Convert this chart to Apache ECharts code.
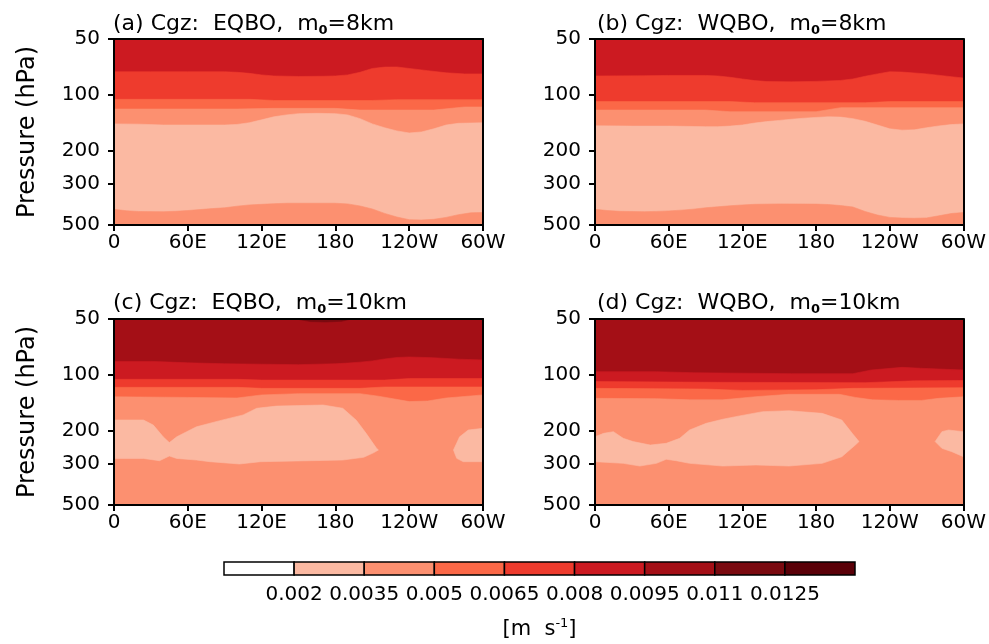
<!DOCTYPE html>
<html>
<head>
<meta charset="utf-8">
<script src="https://cdn.jsdelivr.net/npm/echarts@6/dist/echarts.min.js"></script>
<style>html,body{margin:0;padding:0;background:#fff}#c{width:989px;height:644px}</style>
</head>
<body>
<div id="c"></div>
<script>
// ---- axis ticks / labels ----
const lonTickValues = [0, 60, 120, 180, 240, 300];
const lonTickLabels = ['0', '60E', '120E', '180', '120W', '60W'];
const pTickValues = [50, 100, 200, 300, 500];
const levels = [0.002, 0.0035, 0.005, 0.0065, 0.008, 0.0095, 0.011, 0.0125];
const colors = ['#ffffff', '#fbb9a2', '#fc9070', '#fb6847', '#ee3b2d', '#cc1a21', '#a40f16', '#7a0a10', '#5a0008'];
const titles = ['(a) Cgz:  EQBO,  m{s|0}=8km', '(b) Cgz:  WQBO,  m{s|0}=8km',
                '(c) Cgz:  EQBO,  m{s|0}=10km', '(d) Cgz:  WQBO,  m{s|0}=10km'];

// ---- contour boundaries, [longitude, pressure hPa] ----
// panel (a)
const aL1 = [[0,75],[30,75],[60,75],[90,75],[100,75.5],[110,76.5],[120,78],[130,79],[150,79.5],[170,79.3],[180,79],[190,78],[200,75.5],[210,72],[220,70.8],[230,70.7],[240,72],[255,74],[270,76],[285,77],[300,77]];
const aL2 = [[0,105.5],[110,105.5],[130,107],[210,107],[230,106],[300,106]];
const aL3 = [[0,119],[100,119],[130,118],[180,118],[200,120.5],[260,120.5],[285,116],[300,116]];
const aL4 = [[0,143],[20,143.5],[40,145],[90,145],[100,144],[110,141],[120,136],[130,131],[140,128],[150,126],[165,125.5],[180,126],[190,128],[200,134],[210,143],[220,150],[230,156],[240,160],[250,158],[260,152],[270,145],[280,142],[300,141]];
const aL5 = [[0,412],[10,419],[20,423],[40,424],[50,422],[60,418],[70,413],[80,408],[90,404],[100,396],[110,390],[120,387],[130,384],[140,382],[180,382],[190,385],[200,395],[210,410],[220,433],[230,453],[240,468],[250,470],[260,466],[270,455],[280,440],[290,430],[300,428]];
// panel (b)
const bL1 = [[0,79],[40,78.8],[60,78.5],[90,78.5],[100,79],[110,80.3],[120,82],[130,83.7],[140,84.7],[160,85],[180,84.5],[200,83.5],[210,82],[220,79.3],[230,77],[240,75],[250,75.3],[270,77],[290,79.7],[300,81]];
const bL2 = [[0,108.5],[110,108.5],[130,110],[220,110],[240,108.5],[300,108.5]];
const bL3 = [[0,120.5],[90,120.5],[110,123],[180,123],[200,117],[300,117]];
const bL4 = [[0,146.5],[30,147],[60,147],[90,148],[100,148],[110,147],[120,145],[130,141.5],[140,139],[150,137],[160,135],[170,133.3],[180,132],[190,131],[200,131.5],[210,134],[220,138.5],[230,145],[240,152],[250,154.5],[260,154],[270,150],[280,146.7],[290,144.3],[300,143]];
const bL5 = [[0,412],[10,418],[20,422],[40,424],[50,422.5],[60,420],[70,416],[80,411],[90,404],[100,399],[110,394],[120,390],[130,387],[150,385],[170,385.5],[180,386],[190,388],[200,393],[210,400],[220,423],[230,442],[240,455],[250,459],[260,460],[270,458],[280,446],[290,434],[300,428]];
// panel (c)
const cL1 = [[0,84.5],[30,84.5],[40,85],[60,86],[90,87],[120,87.5],[150,88],[180,87],[190,86.3],[200,85.3],[210,84],[220,82],[230,80.5],[240,80],[260,80.8],[280,82.2],[300,83]];
const cL2 = [[0,105.5],[100,105.5],[120,106.5],[220,106.5],[240,104.5],[300,104.5]];
const cL3 = [[0,116.5],[100,116.5],[120,118],[200,118],[220,116],[300,116]];
const cL4 = [[0,131],[60,132],[100,133],[120,128],[150,126],[200,126],[215,130],[240,139],[255,138],[270,133],[300,128]];
const cSpot = [[148,50],[160,51.6],[172,51.9],[185,51.4],[193,50]];
const cBlob1 = [[0,174.6],[24,174.6],[32,186],[40,215],[45,231],[51,215],[59,202],[67,190],[86,176],[105,164],[116,151],[132,147],[170,145],[186,151],[197,175],[205,206],[213.5,248],[215,253],[211,262],[203,277],[186,286.5],[159,289],[119,292.5],[102,301],[78,292.5],[67,286.5],[51,281],[45,272.6],[37,289],[24,281],[0,281]];
const cBlob2 = [[276,253],[281,215],[288,197.6],[300,193.6],[300,292.5],[284,292.5],[278.6,280.6]];
// panel (d)
const dL1 = [[0,96],[50,96],[80,97.2],[160,98.4],[210,98.4],[225,94],[250,91],[265,92],[300,94]];
const dL2 = [[0,108.5],[100,109.5],[220,110],[260,107.5],[300,107]];
const dL3 = [[0,118],[90,119],[120,121],[180,120],[210,118],[300,117]];
const dL4 = [[0,133.5],[50,134],[77,136],[104,136],[131,130.8],[158,127],[199,127],[212,132],[226,136],[247,137],[266,137],[280,133.5],[300,131]];
const dBlob1 = [[0,214.6],[7,206],[15,201.7],[23,219],[31,228],[45,238],[58,233],[69,219],[77,197.6],[90.5,182],[104,173],[117.6,166],[136.5,157.5],[158,155.6],[185,160.8],[201,174.6],[209.5,206],[215,228],[212,238],[201,275],[185,298.5],[158,308.6],[131,304.7],[104,308.6],[77,298.5],[66,288.8],[58,284],[50,298.5],[36.5,308.6],[23,298.5],[0,292.4]];
const dBlob2 = [[277,228],[282.5,201.7],[288,197.6],[300,201.7],[300,275],[290.6,258.5],[282.5,248]];

// level index of each layer: background, regions below each boundary, closed areas
const panels = [
  {bg: 5, below: [[4, aL1], [3, aL2], [2, aL3], [1, aL4], [2, aL5]], closed: []},
  {bg: 5, below: [[4, bL1], [3, bL2], [2, bL3], [1, bL4], [2, bL5]], closed: []},
  {bg: 6, below: [[5, cL1], [4, cL2], [3, cL3], [2, cL4]], closed: [[7, cSpot], [1, cBlob1], [1, cBlob2]]},
  {bg: 6, below: [[5, dL1], [4, dL2], [3, dL3], [2, dL4]], closed: [[1, dBlob1], [1, dBlob2]]}
];

// ---- layout ----
const FONT = 'DejaVu Sans';
const grids = [
  {left: 114, top: 39, width: 369, height: 186},
  {left: 595, top: 39, width: 370, height: 186},
  {left: 114, top: 319, width: 369, height: 186},
  {left: 595, top: 319, width: 370, height: 186}
];
const titlePos = [[113, 11], [597, 11], [113, 290], [597, 290]];
const LON_MIN = 0, LON_MAX = 300, P_TOP = 50, P_BOT = 500;
const lg = Math.log10;

const xAxes = [], yAxes = [], series = [], titleComps = [];
const lineStyle = {color: '#000', width: 2};

panels.forEach((pn, i) => {
  const shapes = [];
  shapes.push({level: pn.bg, pts: [[LON_MIN, P_TOP], [LON_MAX, P_TOP], [LON_MAX, P_BOT], [LON_MIN, P_BOT]]});
  pn.below.forEach(([lev, line]) => shapes.push({level: lev, pts: line.concat([[LON_MAX, P_BOT], [LON_MIN, P_BOT]])}));
  pn.closed.forEach(([lev, poly]) => shapes.push({level: lev, pts: poly}));

  xAxes.push({
    gridIndex: i, type: 'value', min: LON_MIN, max: LON_MAX, position: 'bottom', z: 5,
    axisLine: {show: true, onZero: false, lineStyle},
    axisTick: {show: true, length: 6, lineStyle, customValues: lonTickValues},
    axisLabel: {show: true, customValues: lonTickValues, formatter: v => lonTickLabels[Math.round(v / 60)],
      fontSize: 20, fontFamily: FONT, color: '#000', margin: 8},
    splitLine: {show: false}
  });
  xAxes.push({
    gridIndex: i, type: 'value', min: LON_MIN, max: LON_MAX, position: 'top', z: 5,
    axisLine: {show: true, onZero: false, lineStyle}, axisTick: {show: false}, axisLabel: {show: false}, splitLine: {show: false}
  });
  const yl = {
    gridIndex: i, type: 'value', min: lg(P_TOP), max: lg(P_BOT), inverse: true, position: 'left', z: 5,
    axisLine: {show: true, onZero: false, lineStyle},
    axisTick: {show: true, length: 6, lineStyle, customValues: pTickValues.map(lg)},
    axisLabel: {show: true, customValues: pTickValues.map(lg), formatter: v => String(Math.round(Math.pow(10, v))),
      fontSize: 20, fontFamily: FONT, color: '#000', margin: 14},
    splitLine: {show: false}
  };
  if (i % 2 === 0) {
    yl.name = 'Pressure (hPa)';
    yl.nameLocation = 'middle';
    yl.nameGap = 74;
    yl.nameTextStyle = {fontSize: 24, fontFamily: FONT, color: '#000'};
  }
  yAxes.push(yl);
  yAxes.push({
    gridIndex: i, type: 'value', min: lg(P_TOP), max: lg(P_BOT), inverse: true, position: 'right', z: 5,
    axisLine: {show: true, onZero: false, lineStyle}, axisTick: {show: false}, axisLabel: {show: false}, splitLine: {show: false}
  });

  series.push({
    type: 'custom', xAxisIndex: 2 * i, yAxisIndex: 2 * i, clip: true, silent: true,
    data: shapes.map(s => [s.pts[0][0], lg(s.pts[0][1])]),
    renderItem: (params, api) => {
      const s = shapes[params.dataIndex];
      const points = s.pts.map(d => api.coord([d[0], lg(d[1])]));
      return {type: 'polygon', shape: {points}, style: {fill: colors[s.level], stroke: colors[s.level], lineWidth: 0.6}};
    }
  });

  titleComps.push({
    text: titles[i], left: titlePos[i][0], top: titlePos[i][1], padding: 0,
    textStyle: {fontSize: 22, fontFamily: FONT, fontWeight: 'normal', color: '#000', lineHeight: 26,
      rich: {s: {fontSize: 13, fontFamily: FONT, fontWeight: 'bold', color: '#000', lineHeight: 26, verticalAlign: 'bottom'}}}
  });
});

// ---- colour bar ----
grids.push({left: 224, top: 562, width: 631, height: 19});
const barIdx = 4;
xAxes.push({
  gridIndex: barIdx, type: 'value', min: 0, max: colors.length, position: 'bottom',
  axisLine: {show: false}, axisTick: {show: false}, splitLine: {show: false},
  axisLabel: {show: true, customValues: levels.map((v, k) => k + 1), formatter: v => String(levels[Math.round(v) - 1]),
    fontSize: 20, fontFamily: FONT, color: '#000', margin: 10, hideOverlap: false},
  name: '[m  s{u|-1}]', nameLocation: 'middle', nameGap: 42,
  nameTextStyle: {fontSize: 21, fontFamily: FONT, color: '#000', lineHeight: 26,
    rich: {u: {fontSize: 13, fontFamily: FONT, color: '#000', lineHeight: 26, verticalAlign: 'top'}}}
});
yAxes.push({gridIndex: barIdx, type: 'value', min: 0, max: 1, show: false});
series.push({
  type: 'custom', xAxisIndex: 2 * panels.length, yAxisIndex: 2 * panels.length, silent: true, z: 3,
  data: colors.map((c, k) => [k, 0]),
  renderItem: (params, api) => {
    const k = params.dataIndex;
    const p0 = api.coord([k, 1]);
    const p1 = api.coord([k + 1, 0]);
    return {type: 'rect', shape: {x: p0[0], y: p0[1], width: p1[0] - p0[0], height: p1[1] - p0[1]},
      style: {fill: colors[k], stroke: '#000', lineWidth: 1.5}};
  }
});

const chart = echarts.init(document.getElementById('c'), null, {renderer: 'canvas'});
chart.setOption({
  animation: false,
  backgroundColor: '#fff',
  title: titleComps,
  grid: grids,
  xAxis: xAxes,
  yAxis: yAxes,
  series: series
});
</script>
</body>
</html>
